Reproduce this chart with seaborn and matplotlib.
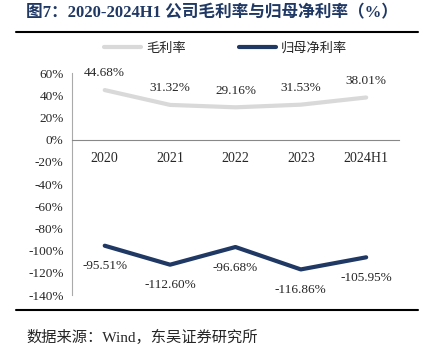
import pandas as pd
import matplotlib.pyplot as plt
import seaborn as sns

# 데이터
years = ['2020', '2021', '2022', '2023', '2024H1']
gross = [44.68, 31.32, 29.16, 31.53, 38.01]
net = [-95.51, -112.60, -96.68, -116.86, -105.95]

df = pd.DataFrame({'year': years, '毛利率': gross, '归母净利率': net})
df_melt = df.melt(id_vars='year', var_name='指标', value_name='value')

sns.set_style('white')
plt.rcParams['font.family'] = ['Liberation Serif', 'Noto Sans CJK SC']

fig = plt.figure(figsize=(4.34, 3.53), dpi=100)
ax = fig.add_axes([0.166, 0.164, 0.753, 0.629])

sns.lineplot(data=df_melt, x='year', y='value', hue='指标',
             palette={'毛利率': '#d9d9d9', '归母净利率': '#1f3864'},
             linewidth=3, sort=False, legend=False, ax=ax)

# 데이터 라벨
for i, v in enumerate(gross):
    ax.text(i, v + 15, f'{v:.2f}%', ha='center', va='center', fontsize=9.5)
for i, v in enumerate(net):
    ax.text(i, v - 18.5, f'{v:.2f}%', ha='center', va='center', fontsize=9.5)

ax.set_xlim(-0.5, 4.5)
ax.set_ylim(-140, 60)
ax.set_yticks(range(-140, 61, 20))
ax.set_yticklabels([f'{t}%' for t in range(-140, 61, 20)], fontsize=9.5)
ax.set_xticks(range(5))
ax.set_xticklabels(years, fontsize=9.5)
ax.set_xticks([0.5, 1.5, 2.5, 3.5, 4.5], minor=True)
ax.tick_params(axis='x', which='major', length=0, pad=9)
ax.tick_params(axis='x', which='minor', direction='in', length=4, color='#888888')
ax.tick_params(axis='y', direction='out', length=4, color='#888888', pad=2)
ax.set_xlabel('')
ax.set_ylabel('')

for s in ['top', 'right']:
    ax.spines[s].set_visible(False)
ax.spines['left'].set_color('#aaaaaa')
ax.spines['bottom'].set_color('#888888')
ax.spines['bottom'].set_position(('data', 0))
ax.grid(False)

# 범례
fig.legend(handles=[plt.Line2D([], [], color='#d9d9d9', lw=3),
                    plt.Line2D([], [], color='#1f3864', lw=3)],
           labels=['毛利率', '归母净利率'], ncol=2, frameon=False,
           loc='center', bbox_to_anchor=(0.52, 0.862), fontsize=9.5,
           handlelength=2.8, columnspacing=4, handletextpad=0.4)

# 제목, 출처
fig.text(0.06, 0.963, '图7：2020-2024H1 公司毛利率与归母净利率（%）',
         fontsize=12, fontweight='bold', color='#1f3864', va='center')
fig.add_artist(plt.Line2D([0.037, 0.963], [0.909, 0.909], color='black', lw=1.5))
fig.add_artist(plt.Line2D([0.037, 0.963], [0.122, 0.122], color='black', lw=1.5))
fig.text(0.06, 0.045, '数据来源：Wind，东吴证券研究所', fontsize=11, va='center')

plt.savefig('out.png', dpi=100)
